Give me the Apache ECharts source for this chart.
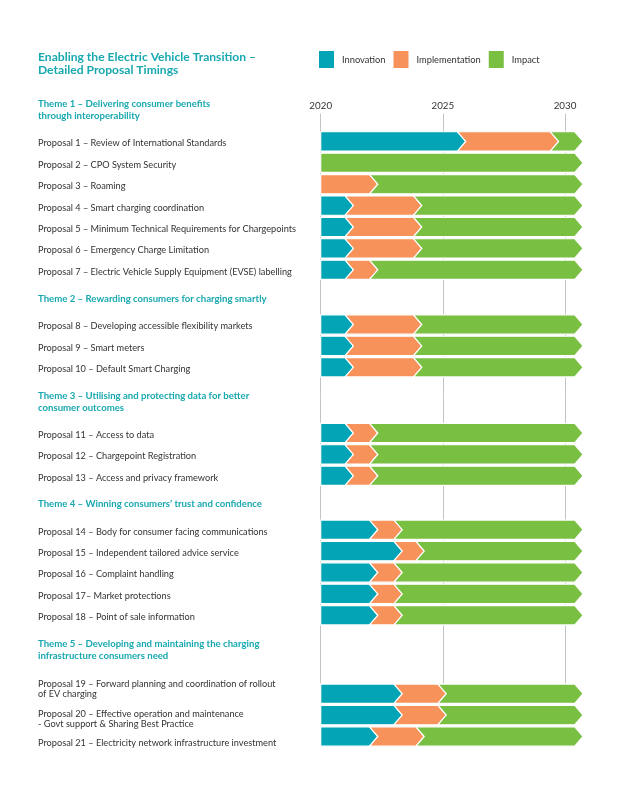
<!DOCTYPE html>
<html>
<head>
<meta charset="utf-8">
<script src="https://cdn.jsdelivr.net/npm/echarts@6/dist/echarts.min.js"></script>
<style>
html,body{margin:0;padding:0;background:#fff;}
#chart{width:623px;height:800px;}
</style>
</head>
<body>
<div id="chart"></div>
<script>
// ---------------- DATA ----------------
const chartTitle = 'Enabling the Electric Vehicle Transition –\nDetailed Proposal Timings';
const phases = ['Innovation', 'Implementation', 'Impact'];
const yearTicks = [2020, 2025, 2030];
const themes = [
  'Theme 1 – Delivering consumer benefits\nthrough interoperability',
  'Theme 2 – Rewarding consumers for charging smartly',
  'Theme 3 – Utilising and protecting data for better\nconsumer outcomes',
  'Theme 4 – Winning consumers’ trust and confidence',
  'Theme 5 – Developing and maintaining the charging\ninfrastructure consumers need'
];
const proposals = [
  'Proposal 1 – Review of International Standards',
  'Proposal 2 – CPO System Security',
  'Proposal 3 – Roaming',
  'Proposal 4 – Smart charging coordination',
  'Proposal 5 – Minimum Technical Requirements for Chargepoints',
  'Proposal 6 – Emergency Charge Limitation',
  'Proposal 7 – Electric Vehicle Supply Equipment (EVSE) labelling',
  'Proposal 8 – Developing accessible flexibility markets',
  'Proposal 9 – Smart meters',
  'Proposal 10 – Default Smart Charging',
  'Proposal 11 – Access to data',
  'Proposal 12 – Chargepoint Registration',
  'Proposal 13 – Access and privacy framework',
  'Proposal 14 – Body for consumer facing communications',
  'Proposal 15 – Independent tailored advice service',
  'Proposal 16 – Complaint handling',
  'Proposal 17– Market protections',
  'Proposal 18 – Point of sale information',
  'Proposal 19 – Forward planning and coordination of rollout\nof EV charging',
  'Proposal 20 – Effective operation and maintenance\n- Govt support & Sharing Best Practice',
  'Proposal 21 – Electricity network infrastructure investment'
];
const proposalTheme = [0,0,0,0,0,0,0, 1,1,1, 2,2,2, 3,3,3,3,3, 4,4,4];
const startYear = 2020;
const innovationEnd = [2025.6, null, null, 2021, 2021, 2021, 2021, 2021, 2021, 2021, 2021, 2021, 2021, 2022, 2023, 2022, 2022, 2022, 2023, 2023, 2022];
const implementationEnd = [2029.4, null, 2022, 2023.8, 2023.8, 2023.8, 2022, 2023.8, 2023.8, 2023.8, 2022, 2022, 2022, 2023, 2023.9, 2023, 2023, 2023, 2024.8, 2024.8, 2023.9];
const impactEnd = [2030.4, 2030.4, 2030.4, 2030.4, 2030.4, 2030.4, 2030.4, 2030.4, 2030.4, 2030.4, 2030.4, 2030.4, 2030.4, 2030.4, 2030.4, 2030.4, 2030.4, 2030.4, 2030.4, 2030.4, 2030.4];

// ---------------- STYLE / LAYOUT ----------------
const colors = ['#03a4b5', '#f6925a', '#79bf42'];
const teal = '#18a8b0';
const textColor = '#333333';
const font = 'Lato';
const gridLeft = 320.7;
const gridRight = 58;
const rowH = 21.4;
const themeTops = [130.7, 313.8, 422.3, 519, 683];
const themeTitleTops = [98, 292.5, 390, 498, 638];
const labelFontSize = 9.2;
const labelLineH = 10;
const defaultLabelShift = 2;               // px, text sits slightly below bar centre
const specialLabelShift = { 18: -5, 19: 3.5, 20: 7 }; // proposal index -> px

// ---------------- BUILD ----------------
const themeRows = themes.map((t, k) => proposals.filter((p, i) => proposalTheme[i] === k));
const ends = [innovationEnd, implementationEnd, impactEnd];
const seriesData = themes.map(() => phases.map(() => []));
proposals.forEach((p, i) => {
  const k = proposalTheme[i];
  const row = themeRows[k].indexOf(p);
  let cur = startYear;
  ends.forEach((arr, ph) => {
    const e = arr[i];
    if (e == null) return;
    seriesData[k][ph].push([row, cur, e, cur !== startYear ? 1 : 0]);
    cur = e;
  });
});

// rich styles for label vertical shift
const rich = { m: { fontSize: labelFontSize, lineHeight: labelLineH, color: textColor, fontFamily: font } };
function shiftKey(s) {
  const key = 's' + Math.round(Math.abs(s) * 10);
  rich[key] = { fontSize: 1, lineHeight: Math.abs(s) * 2, color: 'rgba(0,0,0,0)' };
  return key;
}
function labelFormatter(value) {
  const i = proposals.indexOf(value);
  const s = (i in specialLabelShift) ? specialLabelShift[i] : defaultLabelShift;
  const body = value.split('\n').map(l => '{m|' + l + '}').join('\n');
  if (!s) return body;
  const sp = '{' + shiftKey(s) + '| }';
  return s > 0 ? sp + '\n' + body : body + '\n' + sp;
}
proposals.forEach(labelFormatter); // register rich keys

function renderItem(params, api) {
  const row = api.value(0), s = api.value(1), e = api.value(2), notch = api.value(3);
  const p0 = api.coord([s, row]);
  const p1 = api.coord([e, row]);
  const h = api.size([0, 1])[1] * 0.9;
  const d = h * 0.43;
  const top = p0[1] - h / 2, bot = p0[1] + h / 2, mid = p0[1];
  const pts = [[p0[0], top], [p1[0], top], [p1[0] + d, mid], [p1[0], bot], [p0[0], bot]];
  if (notch) pts.push([p0[0] + d, mid]);
  return {
    type: 'polygon',
    shape: { points: pts },
    style: { fill: api.visual('color'), stroke: '#ffffff', lineWidth: 1.2 }
  };
}

const grids = [{ left: gridLeft, right: gridRight, top: 113.5, height: 570 }];
const xAxes = [{
  gridIndex: 0, type: 'value', position: 'top', min: yearTicks[0], max: yearTicks[yearTicks.length - 1],
  interval: yearTicks[1] - yearTicks[0],
  axisLine: { show: false }, axisTick: { show: false },
  axisLabel: { color: textColor, fontFamily: font, fontSize: 9.8, margin: 3, formatter: v => String(v) },
  splitLine: { show: true, lineStyle: { color: '#c4c4c4', width: 1 } }
}];
const yAxes = [{ gridIndex: 0, type: 'value', show: false }];
const series = [];
themes.forEach((t, k) => {
  const gi = k + 1;
  grids.push({ left: gridLeft, right: gridRight, top: themeTops[k], height: rowH * themeRows[k].length });
  xAxes.push({ gridIndex: gi, type: 'value', min: yearTicks[0], max: yearTicks[yearTicks.length - 1], show: false });
  yAxes.push({
    gridIndex: gi, type: 'category', inverse: true, data: themeRows[k],
    axisLine: { show: false }, axisTick: { show: false },
    axisLabel: {
      interval: 0, hideOverlap: false,
      align: 'left', margin: gridLeft - 38, color: textColor, fontFamily: font,
      fontSize: labelFontSize, lineHeight: labelLineH, formatter: labelFormatter, rich: rich
    }
  });
  phases.forEach((ph, j) => {
    series.push({
      type: 'custom', name: ph, xAxisIndex: gi, yAxisIndex: gi, clip: false,
      itemStyle: { color: colors[j] },
      encode: { x: [1, 2], y: 0 },
      renderItem: renderItem,
      data: seriesData[k][j]
    });
  });
});

const titles = [{
  text: chartTitle, left: 38, top: 50, padding: 0,
  textStyle: { color: teal, fontFamily: font, fontSize: 12.1, fontWeight: 'bold', lineHeight: 13.5 }
}];
themes.forEach((t, k) => titles.push({
  text: t, left: 38, top: themeTitleTops[k], padding: 0,
  textStyle: { color: teal, fontFamily: font, fontSize: 9.6, fontWeight: 'bold', lineHeight: 12 }
}));

const chart = echarts.init(document.getElementById('chart'), null, { renderer: 'canvas' });
chart.setOption({
  backgroundColor: '#ffffff',
  animation: false,
  color: colors,
  title: titles,
  legend: {
    data: phases.map((p, j) => ({ name: p, itemStyle: { color: colors[j] } })),
    left: 319, top: 51, padding: 0,
    icon: 'rect', itemWidth: 15, itemHeight: 17, itemGap: 8,
    selectedMode: false,
    textStyle: { color: textColor, fontFamily: font, fontSize: 9.3, padding: [2, 0, 0, 3] }
  },
  grid: grids,
  xAxis: xAxes,
  yAxis: yAxes,
  series: series
});
</script>
</body>
</html>
